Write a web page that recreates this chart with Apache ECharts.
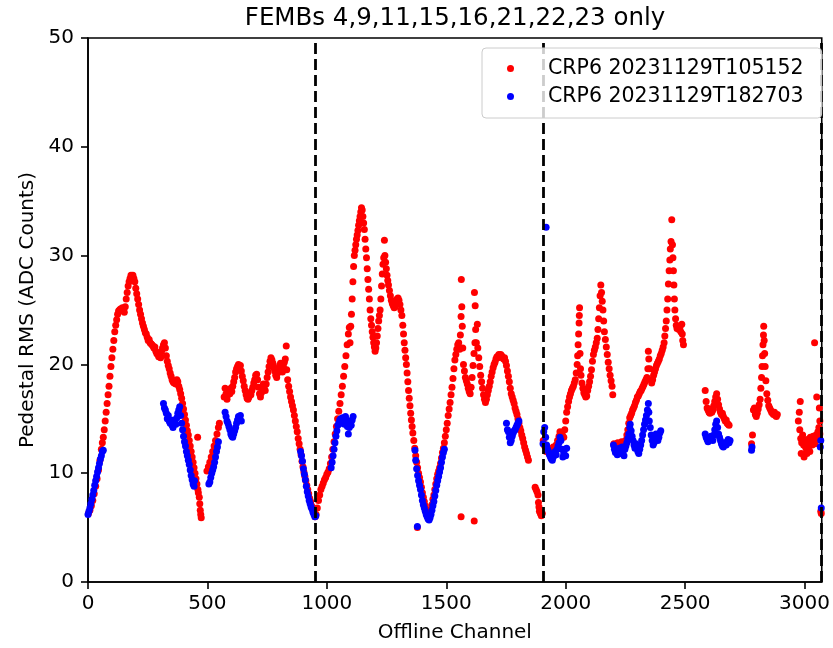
<!DOCTYPE html>
<html lang="en">
<head>
    <meta charset="UTF-8">
    <title>FEMBs 4,9,11,15,16,21,22,23 only</title>
    <script src="https://cdn.jsdelivr.net/npm/echarts@6/dist/echarts.min.js"></script>
    <style>
        body { margin: 0; background: #fff; }
    </style>
</head>
<body>
    <div id="chart" style="width:833px;height:648px;"></div>

    <script>
        // run labels (legend)
        var runNames = ['CRP6 20231129T105152', 'CRP6 20231129T182703'];
        // FEMB-group boundaries (dashed lines)
        var boundaries = [952, 1904, 3072];
        var xTicks = [0, 500, 1000, 1500, 2000, 2500, 3000];

        // ---- first run (red): [channel, rms] ----
        var redA = [[2,6.3],[8,6.6],[14,7.0],[20,7.5],[26,8.1],[32,8.8],[38,9.5],[44,10.3],[50,11.2],[56,12.2],[60,12.8],[64,13.3],[68,14.0],[72,14.8],[76,15.6],[80,16.4],[84,17.2],[88,18.0],[92,18.9],[96,19.8],[100,20.6],[104,21.4],[108,22.2],[112,23.0],[116,23.6],[120,24.1],[124,24.6],[128,24.9],[132,25.0],[136,25.1],[140,25.0],[144,25.2],[148,25.0],[152,24.8],[156,25.3],[160,26.0],[164,26.6],[168,27.2],[172,27.6],[176,27.9],[180,28.2],[184,28.1],[188,28.2],[192,27.9],[196,27.6],[200,27.0],[204,26.5],[208,26.0],[212,25.5],[216,25.0],[220,24.6],[224,24.2],[228,23.8],[232,23.5],[236,23.2],[240,22.9],[244,22.8],[248,22.5],[252,22.2],[256,22.3],[260,22.0],[264,21.9],[268,21.8],[272,21.7],[276,21.5],[280,21.6],[284,21.2],[288,21.0],[292,20.9],[296,20.7],[300,20.9],[304,20.6],[308,21.2],[312,21.5],[316,21.8],[320,22.0],[324,21.5],[328,20.8],[332,20.3],[336,19.9],[340,19.6],[344,19.2],[348,18.9],[352,18.6],[356,18.4],[360,18.3],[364,18.5],[368,18.2],[372,18.6],[376,18.4],[380,18.0],[384,17.7],[388,17.3],[392,16.9],[396,16.4],[400,15.9],[404,15.4],[408,14.9],[412,14.4],[416,13.9],[420,13.5],[424,13.0],[428,12.5],[432,12.0],[436,11.5],[440,11.0],[444,10.5],[448,10.0],[452,9.5],[456,9.0],[460,8.5],[462,8.2],[466,7.8],[468,7.2],[470,6.6],[472,6.2],[474,5.9],[459,13.3],
            [498,10.2],[504,10.6],[510,11.0],[516,11.5],[522,12.0],[528,12.5],[534,13.0],[540,13.6],[546,14.2],[550,14.6],
            [570,17.0],[574,17.8],[578,17.3],[582,16.8],[586,17.2],[590,17.6],[594,17.3],[598,17.8],[602,17.5],[606,18.0],[610,18.4],[614,18.8],[618,19.3],[622,19.6],[626,19.8],[630,20.0],[634,19.6],[638,19.9],[642,19.4],[646,18.9],[650,18.5],[654,18.0],[658,17.6],[662,17.2],[666,16.9],[670,16.8],[674,17.0],[678,17.4],[682,17.2],[686,17.6],[690,17.9],[694,18.3],[698,18.6],[702,19.0],[706,19.1],[710,18.6],[714,17.9],[718,17.3],[722,17.0],[726,17.4],[730,17.8],[734,18.2],[738,18.0],[742,17.6],[746,18.2],[750,18.8],[754,19.3],[758,19.8],[762,20.3],[766,20.6],[770,20.4],[774,20.1],[778,19.7],[782,19.4],[786,19.0],[790,18.8],[794,19.2],[798,19.5],[802,19.9],[806,20.1],[810,19.7],[814,19.3],[818,19.8],[822,20.2],[826,20.5],[830,21.7],[832,19.5],[836,18.6],[840,18.0],[844,17.5],[848,17.0],[852,16.6],[856,16.2],[860,15.8],[864,15.3],[868,14.8],[872,14.3],[876,13.8],[880,13.2],[884,12.7],[888,12.2],[892,11.7],[896,11.1],[900,10.6],[904,10.1],[908,9.7],[912,9.3],[916,8.9],[920,8.5],[924,8.1],[928,7.7],[932,7.4],[936,7.0],[940,6.8],[944,6.5],[948,6.3],[951,6.0]];
        var redB = [[955,6.2],[960,6.8],[965,7.5],[970,8.0],[975,8.5],[980,8.8],[985,9.1],[990,9.4],[995,9.6],[1000,9.9],[1005,10.1],[1010,10.4],[1015,10.9],[1020,11.5],[1025,12.2],[1030,12.9],[1035,13.6],[1040,14.3],[1045,15.0],[1050,15.7],[1055,16.4],[1060,17.2],[1065,18.0],[1070,18.9],[1075,19.8],[1080,20.8],[1085,21.8],[1090,22.8],[1094,23.4],[1097,22.0],[1100,23.5],[1103,24.6],[1106,26.0],[1109,27.6],[1112,29.0],[1115,30.0],[1118,30.5],[1121,31.0],[1124,31.5],[1127,31.9],[1130,32.3],[1133,32.8],[1136,33.2],[1139,33.6],[1142,34.0],[1145,34.4],[1148,34.2],[1151,33.6],[1154,33.0],[1157,32.4],[1160,31.5],[1163,30.6],[1166,29.8],[1169,28.8],[1172,27.8],[1175,26.9],[1178,26.0],[1181,25.0],[1184,24.2],[1187,23.6],[1190,23.0],[1193,22.5],[1196,22.0],[1199,21.6],[1202,21.2],[1205,21.5],[1208,22.0],[1211,22.6],[1214,23.3],[1217,24.0],[1220,24.5],[1223,25.0],[1226,26.0],[1229,27.2],[1232,28.3],[1235,29.2],[1238,29.8],[1241,31.4],[1243,30.0],[1246,29.4],[1249,28.8],[1252,28.2],[1255,27.7],[1258,27.3],[1262,26.8],[1266,26.3],[1270,25.9],[1274,25.6],[1278,25.4],[1282,25.2],[1286,25.3],[1290,25.6],[1294,26.0],[1298,26.1],[1302,25.9],[1306,25.5],[1310,25.0],[1314,24.5],[1318,23.6],[1321,22.8],[1324,22.0],[1327,21.3],[1330,20.6],[1333,20.0],[1336,19.2],[1339,18.4],[1342,17.6],[1345,16.9],[1348,16.2],[1351,15.5],[1354,14.9],[1357,14.3],[1360,13.7],[1364,13.0],[1368,12.3],[1372,11.6],[1376,11.0],[1380,10.5],[1384,10.0],[1388,9.6],[1392,9.2],[1396,8.7],[1400,8.2],[1404,7.8],[1408,7.4],[1412,7.0],[1416,6.6],[1420,6.3],[1424,6.0],[1428,6.1],[1432,6.3],[1436,6.7],[1440,7.1],[1444,7.6],[1448,8.0],[1452,8.5],[1456,9.0],[1460,9.5],[1464,9.9],[1468,10.2],[1472,10.5],[1476,10.9],[1480,11.4],[1484,11.9],[1488,12.3],[1492,12.8],[1496,13.4],[1500,14.0],[1504,14.6],[1508,15.3],[1512,15.9],[1516,16.5],[1520,17.2],[1524,17.9],[1528,18.7],[1532,19.6],[1536,20.4],[1540,20.9],[1544,21.4],[1548,21.8],[1552,22.0],[1556,21.4],[1559,22.7],[1562,24.4],[1563,27.8],[1565,25.3],[1567,23.5],[1569,21.5],[1572,20.0],[1576,19.4],[1580,18.8],[1584,18.5],[1588,18.2],[1592,17.8],[1596,17.5],[1600,17.3],[1604,17.9],[1608,18.8],[1612,19.9],[1616,21.0],[1618,26.6],[1620,22.0],[1621,25.4],[1623,23.2],[1626,22.0],[1630,23.7],[1632,21.5],[1636,20.6],[1640,19.8],[1644,19.0],[1648,18.4],[1652,17.8],[1656,17.2],[1660,16.8],[1664,16.5],[1668,16.8],[1672,17.2],[1676,17.6],[1680,18.0],[1684,18.4],[1688,18.9],[1692,19.3],[1696,19.7],[1700,20.0],[1704,20.2],[1708,20.5],[1712,20.7],[1716,20.6],[1720,20.9],[1724,20.7],[1728,20.9],[1732,20.8],[1736,20.6],[1740,20.5],[1744,20.6],[1748,20.3],[1752,19.9],[1756,19.4],[1760,18.9],[1764,18.4],[1768,17.8],[1772,17.3],[1776,17.0],[1780,16.7],[1784,16.4],[1788,16.0],[1792,15.7],[1796,15.4],[1800,15.0],[1804,14.6],[1808,14.2],[1812,13.9],[1816,13.5],[1820,13.2],[1824,12.8],[1828,12.4],[1832,12.1],[1836,11.8],[1840,11.5],[1844,11.2],
            [1379,5.0],[1562,6.0],[1617,5.6],
            [1872,8.7],[1876,8.5],[1880,8.3],[1884,8.0],[1886,7.3],[1888,6.9],[1890,6.5],[1894,6.3],[1898,6.1],[1902,6.3]];
        var redC = [[1906,13.0],[1912,12.5],[1918,12.0],[1924,12.3],[1930,11.8],[1936,12.2],[1942,11.9],[1948,12.4],[1954,12.1],[1960,12.6],[1966,13.0],[1972,13.4],[1976,13.8],[1980,13.2],[1986,13.5],[1992,13.3],[1996,14.0],[2000,14.8],[2004,15.6],[2008,16.1],[2012,16.6],[2016,17.0],[2020,17.3],[2024,17.6],[2028,17.8],[2032,18.0],[2036,18.3],[2040,18.6],[2044,19.2],[2048,20.0],[2050,20.8],[2052,21.8],[2054,22.8],[2056,23.8],[2057,24.5],[2058,25.2],[2060,21.0],[2062,19.6],[2064,19.0],[2068,18.3],[2072,17.8],[2076,17.4],[2080,17.2],[2084,17.0],[2088,17.1],[2092,17.6],[2096,18.0],[2100,18.4],[2104,18.9],[2108,19.5],[2112,20.3],[2116,20.9],[2120,21.3],[2124,21.6],[2128,22.0],[2132,22.4],[2135,23.2],[2138,24.2],[2141,25.2],[2144,26.3],[2147,27.3],[2150,26.6],[2153,25.8],[2156,25.0],[2159,24.0],[2162,23.0],[2166,22.3],[2170,21.6],[2174,20.9],[2178,20.2],[2182,19.6],[2186,19.0],[2190,18.5],[2194,18.0],[2197,17.2],
            [2202,12.7],[2210,12.3],[2218,12.8],[2226,12.5],[2234,12.9],[2242,12.6],[2250,13.0],[2256,13.5],[2260,14.0],[2264,14.6],[2268,15.1],[2272,15.3],[2276,15.5],[2280,15.8],[2284,16.0],[2288,16.2],[2292,16.5],[2296,16.7],[2300,17.0],[2304,17.1],[2308,17.3],[2312,17.5],[2316,17.6],[2320,17.8],[2324,18.0],[2328,18.2],[2332,18.4],[2336,18.6],[2340,18.8],[2344,19.6],[2346,21.2],[2348,20.5],[2352,19.6],[2356,18.6],[2360,18.3],[2364,18.6],[2368,19.0],[2372,19.3],[2376,19.6],[2380,19.9],[2384,20.1],[2388,20.3],[2392,20.5],[2396,20.8],[2400,21.0],[2404,21.3],[2408,21.6],[2412,22.0],[2415,22.6],[2418,23.3],[2421,24.0],[2424,25.0],[2427,26.0],[2430,27.4],[2433,28.6],[2436,29.6],[2438,30.6],[2441,31.3],[2444,33.3],[2447,31.0],[2449,29.8],[2451,28.6],[2453,27.3],[2455,26.0],[2457,25.0],[2460,24.2],[2463,23.6],[2466,23.3],[2470,23.5],[2474,23.2],[2478,23.4],[2482,23.0],[2486,23.7],[2488,22.8],[2490,22.2],[2493,21.8],
            [2584,17.6],[2588,16.6],[2592,16.0],[2596,15.8],[2600,15.6],[2604,15.5],[2608,15.9],[2612,15.6],[2616,15.8],[2620,16.2],[2624,16.6],[2628,17.0],[2632,17.3],[2636,16.8],[2640,16.3],[2644,15.9],[2648,15.6],[2652,15.4],[2656,15.5],[2660,15.2],[2664,15.0],[2668,14.8],[2672,14.9],[2676,14.6],[2680,14.5],[2684,14.4],
            [2778,12.7],[2782,13.5],[2786,15.8],[2790,16.0],[2794,15.4],[2798,15.2],[2802,15.5],[2806,15.9],[2810,16.3],[2814,16.8],[2817,17.8],[2820,18.8],[2822,19.8],[2824,20.8],[2826,21.8],[2828,22.7],[2829,23.5],[2831,22.2],[2833,21.0],[2835,19.8],[2838,18.5],[2842,17.3],[2846,16.7],[2850,16.2],[2854,16.0],[2858,15.8],[2862,15.6],[2866,15.5],[2870,15.4],[2874,15.6],[2878,15.3],[2882,15.2],[2886,15.4],
            [2974,14.8],[2978,15.6],[2982,16.6],[2980,14.0],[2984,13.2],[2988,12.8],[2992,13.5],[2996,12.6],[3000,13.0],[3004,12.4],[3008,12.2],[3012,13.1],[3016,12.8],[3020,12.5],[3024,13.3],[3028,12.9],[3032,12.6],[3036,13.4],[3040,13.0],[3044,12.7],[3048,13.5],[3052,13.2],[3056,13.8],[3060,14.2],[3064,13.6],[2986,11.8],[2998,11.5],[3010,11.8],[3022,12.0],[3042,22.0],[3051,17.0],[3062,16.0],[3064,14.8],[3068,6.5],[3070,6.3]];

        // ---- second run (blue) ----
        var blueA = [[0,6.2],[4,6.5],[8,6.8],[12,7.2],[16,7.6],[20,8.0],[24,8.4],[28,8.9],[32,9.3],[36,9.7],[40,10.1],[44,10.5],[48,10.9],[52,11.3],[56,11.6],[60,12.0],[64,12.1],
            [316,16.4],[320,16.0],[324,15.8],[328,15.5],[332,15.0],[336,15.3],[340,14.8],[344,14.6],[348,14.9],[352,14.4],[356,14.2],[360,14.6],[364,14.9],[368,14.5],[372,15.1],[376,15.5],[380,15.8],[384,16.1],[388,15.3],[392,14.6],[396,14.0],[400,13.4],[404,12.9],[408,12.5],[412,12.0],[416,11.6],[420,11.2],[424,10.8],[428,10.3],[432,9.8],[436,9.4],[440,9.0],[444,8.8],[446,9.3],
            [506,9.0],[510,9.2],[514,9.6],[518,10.0],[522,10.3],[526,10.6],[530,11.0],[534,11.5],[538,12.0],[542,12.4],[546,12.9],
            [574,15.6],[578,15.2],[582,14.8],[586,14.6],[590,14.3],[594,14.0],[598,13.6],[602,13.4],[606,13.3],[610,13.6],[614,13.9],[618,14.2],[622,14.6],[626,14.9],[630,15.2],[634,15.0],[638,15.3],[642,14.8],
            [890,12.0],[894,11.6],[898,11.1],[902,10.4],[906,9.9],[910,9.4],[914,8.8],[918,8.3],[922,7.9],[926,7.5],[930,7.2],[934,6.9],[938,6.7],[942,6.4],[946,6.2],[950,6.0]];
        var blueB = [[954,6.1],
            [1018,10.5],[1022,11.0],[1026,11.6],[1030,12.2],[1034,12.8],[1038,13.4],[1042,13.9],[1046,14.4],[1050,14.6],[1054,14.9],[1058,15.0],[1062,14.6],[1066,15.1],[1070,14.8],[1074,14.5],[1078,15.2],[1082,14.9],[1086,14.3],[1090,13.6],[1094,14.2],[1098,14.8],[1102,14.4],[1106,14.9],[1110,15.2],
            [1369,12.1],[1372,11.2],[1376,10.4],[1380,9.8],[1384,9.3],[1388,8.9],[1392,8.5],[1396,8.0],[1400,7.5],[1404,7.1],[1408,6.8],[1412,6.5],[1416,6.2],[1420,6.0],[1424,5.8],[1428,5.7],[1432,5.9],[1436,6.2],[1440,6.6],[1444,7.0],[1448,7.4],[1452,7.9],[1456,8.4],[1460,8.9],[1464,9.3],[1468,9.7],[1472,10.1],[1476,10.5],[1480,11.0],[1484,11.5],[1488,11.9],[1492,12.2],[1379,5.1],
            [1752,14.6],[1756,14.0],[1760,13.8],[1764,13.3],[1768,12.8],[1772,13.0],[1776,13.4],[1780,13.7],[1784,13.9],[1788,14.0],[1792,14.2],[1796,14.4],[1800,14.6],[1804,14.8]];
        var blueC = [[1905,12.7],[1908,13.8],[1912,14.2],[1916,13.3],[1918,32.6],[1920,12.6],[1924,12.2],[1928,12.0],[1932,11.7],[1936,11.5],[1940,11.3],[1944,11.2],[1948,11.5],[1952,11.8],[1956,12.0],[1960,11.7],[1964,12.2],[1968,12.5],[1972,12.8],[1976,13.3],[1980,13.0],[1984,12.2],[1988,11.5],[1992,11.8],[1996,12.2],[2000,11.6],[2004,12.3],
            [2200,12.6],[2204,12.2],[2208,11.9],[2212,12.1],[2216,11.7],[2220,12.0],[2224,12.3],[2228,11.8],[2232,12.1],[2236,12.4],[2240,12.0],[2244,11.6],[2248,12.2],[2252,12.5],[2256,12.8],[2260,13.2],[2264,13.6],[2268,14.2],[2270,14.5],[2274,13.9],[2278,13.4],[2282,13.0],[2286,12.6],[2290,12.3],[2294,12.7],[2298,12.5],[2302,12.0],[2306,11.8],[2310,12.2],[2314,12.6],[2318,13.0],[2322,13.5],[2326,14.0],[2330,14.5],[2334,14.9],[2338,15.3],[2342,15.8],[2346,16.4],[2348,15.6],[2350,14.8],[2354,14.2],[2358,13.5],[2362,13.0],[2366,12.6],[2370,12.8],[2374,13.2],[2378,13.6],[2382,13.4],[2386,13.0],[2390,13.3],[2394,13.7],[2398,13.9],
            [2584,13.6],[2588,13.3],[2592,13.1],[2596,12.9],[2600,13.0],[2604,13.2],[2608,13.4],[2612,13.3],[2616,13.0],[2620,13.5],[2624,14.0],[2628,14.5],[2632,14.8],[2636,14.2],[2640,13.6],[2644,13.3],[2648,13.0],[2652,12.7],[2656,12.5],[2660,12.4],[2664,12.6],[2668,12.8],[2672,12.6],[2676,12.9],[2680,13.1],[2684,12.8],[2688,13.0],
            [2778,12.1],[2780,12.4],
            [3066,12.4],[3068,13.0],[3070,6.8]];

        var redPoints = redA.concat(redB, redC);
        var bluePoints = blueA.concat(blueB, blueC);

        var font = 'DejaVu Sans';
        var chart = echarts.init(document.getElementById('chart'));
        var option = {
            animation: false,
            backgroundColor: '#fff',
            textStyle: { fontFamily: font },
            title: {
                text: 'FEMBs 4,9,11,15,16,21,22,23 only',
                left: 455,
                top: 6,
                padding: 0,
                textAlign: 'center',
                textStyle: { fontFamily: font, fontSize: 24.5, fontWeight: 'normal', color: '#000' }
            },
            legend: {
                left: 482,
                top: 48,
                orient: 'vertical',
                z: 10,
                padding: [10, 18, 11, 25],
                itemGap: 7,
                itemWidth: 7,
                itemHeight: 7,
                icon: 'circle',
                backgroundColor: 'rgba(255,255,255,0.8)',
                borderColor: '#cccccc',
                borderWidth: 1,
                borderRadius: 4,
                formatter: function (name) { return '{t|' + name + '}'; },
                textStyle: {
                    fontFamily: font, fontSize: 20.5, color: '#000',
                    rich: { t: { fontFamily: font, fontSize: 20.5, color: '#000', lineHeight: 22, padding: [0, 0, 0, 29] } }
                },
                data: runNames
            },
            grid: { left: 88, right: 11, top: 38, bottom: 62, show: true, borderColor: '#000', borderWidth: 1.6 },
            xAxis: {
                type: 'value',
                min: 0,
                max: 3072,
                interval: 500,
                name: 'Offline Channel',
                nameLocation: 'middle',
                nameGap: 41,
                nameTextStyle: { fontFamily: font, fontSize: 20, color: '#000' },
                axisLine: { show: true, lineStyle: { color: '#000', width: 1.6 } },
                axisTick: { show: true, length: 7, lineStyle: { color: '#000', width: 1.6 }, customValues: xTicks },
                axisLabel: {
                    fontFamily: font, fontSize: 20, color: '#000', margin: 12, customValues: xTicks,
                    formatter: function (v) { return String(v); }
                },
                splitLine: { show: false }
            },
            yAxis: {
                type: 'value',
                min: 0,
                max: 50,
                interval: 10,
                name: 'Pedestal RMS (ADC Counts)',
                nameLocation: 'middle',
                nameGap: 46,
                nameTextStyle: { fontFamily: font, fontSize: 20, color: '#000' },
                axisLine: { show: true, lineStyle: { color: '#000', width: 1.6 } },
                axisTick: { show: true, length: 7, lineStyle: { color: '#000', width: 1.6 } },
                axisLabel: { fontFamily: font, fontSize: 20, color: '#000', margin: 14 },
                splitLine: { show: false }
            },
            series: [
                {
                    name: runNames[0],
                    type: 'scatter',
                    symbolSize: 7,
                    itemStyle: { color: '#ff0000', opacity: 1 },
                    data: redPoints
                },
                {
                    name: runNames[1],
                    type: 'scatter',
                    symbolSize: 7,
                    itemStyle: { color: '#0000ff', opacity: 1 },
                    data: bluePoints,
                    markLine: {
                        silent: true,
                        symbol: ['none', 'none'],
                        label: { show: false },
                        lineStyle: { color: '#000', width: 2.8, type: [11, 5] },
                        data: boundaries.map(function (b) { return { xAxis: b }; })
                    }
                }
            ]
        };
        chart.setOption(option);
    </script>
</body>
</html>
